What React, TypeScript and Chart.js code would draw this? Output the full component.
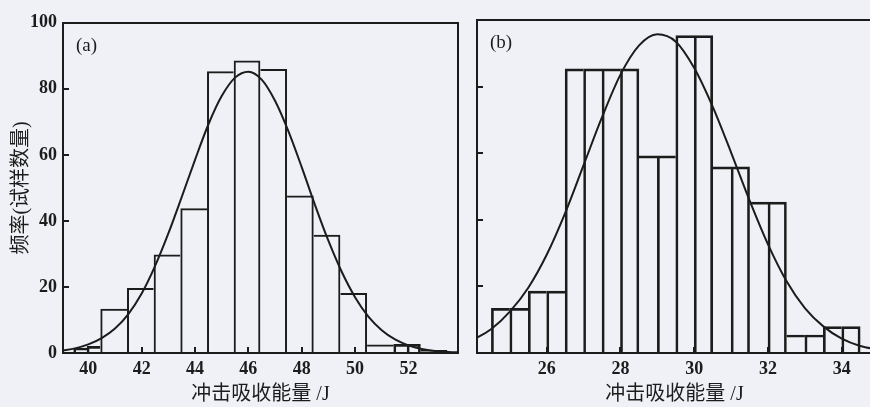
import React, { useEffect, useRef } from "react";
import { Chart, registerables } from "chart.js";
Chart.register(...registerables);

// ---------- Panel (a) ----------
const binEdgesA = [39.45, 39.95, 40.45, 41.45, 42.45, 43.45, 44.45, 45.45, 46.45, 47.45, 48.45, 49.45, 50.45, 51.45, 51.95, 52.45, 52.95, 53.45];
const countsA = [1.5, 2, 13.4, 19.7, 29.8, 43.8, 85.3, 88.6, 86, 47.7, 35.8, 18.2, 2.6, 2.6, 2.6, 0.8, 0.8];
const curveXA = [39.0, 39.5, 40.0, 40.5, 41.0, 41.5, 42.0, 42.5, 43.0, 43.5, 44.0, 44.5, 45.0, 45.5, 46.0, 46.5, 47.0, 47.5, 48.0, 48.5, 49.0, 49.5, 50.0, 50.5, 51.0, 51.5, 52.0, 52.5, 53.0, 53.5, 54.0];
const curveYA = [0.7, 1.4, 2.6, 4.5, 7.4, 11.8, 18.0, 26.3, 36.2, 47.2, 58.5, 69.2, 77.8, 83.4, 85.2, 82.8, 76.4, 67.2, 56.3, 44.8, 34.0, 24.6, 16.9, 11.0, 6.9, 4.1, 2.3, 1.2, 0.6, 0.3, 0.15];
const xTicksA = [40, 42, 44, 46, 48, 50, 52];
const xRangeA = [39.05, 53.86];

// ---------- Panel (b) ----------
const binEdgesB = [24.5, 25, 25.5, 26, 26.5, 27, 27.5, 28, 28.5, 29, 29.5, 30, 30.5, 31, 31.5, 32, 32.5, 33, 33.5, 34, 34.5];
const countsB = [13.4, 13.4, 18.6, 18.6, 85.3, 85.3, 85.3, 85.3, 59.2, 59.2, 95.3, 95.3, 55.9, 55.9, 45.3, 45.3, 5.4, 5.4, 7.9, 7.9];
const curveXB = [23.5, 24.0, 24.5, 25.0, 25.5, 26.0, 26.5, 27.0, 27.5, 28.0, 28.5, 29.0, 29.5, 30.0, 30.5, 31.0, 31.5, 32.0, 32.5, 33.0, 33.5, 34.0, 34.5, 35.0];
const curveYB = [2.0, 4.0, 7.2, 12.4, 19.6, 29.5, 42.0, 56.4, 70.8, 83.6, 92.3, 95.7, 93.5, 85.6, 74.0, 60.2, 45.8, 32.6, 21.6, 13.5, 8.0, 4.3, 2.1, 1.0];
const xTicksB = [26, 28, 30, 32, 34];
const xRangeB = [24.11, 34.82];

// ---------- shared ----------
const yTicks = [0, 20, 40, 60, 80, 100];
const xTitle = "冲击吸收能量 /J";
const yTitle = "频率(试样数量)";

const INK = "#1c1c1c";
const BG = "#eff1f6";
const SERIF = '"Liberation Serif", "Noto Sans CJK SC", serif';
const LW = 2;

// one bar dataset per bin width, so each bar spans its own bin
function binDatasets(edges: number[], counts: number[]) {
  const widths = counts.map((_, i) => Math.round((edges[i + 1] - edges[i]) * 1000) / 1000);
  const minW = Math.min(...widths);
  const groups = new Map<number, number[]>();
  widths.forEach((w, i) => {
    if (!groups.has(w)) groups.set(w, []);
    groups.get(w)!.push(i);
  });
  return Array.from(groups.entries()).map(([w, idx]) => ({
    type: "bar" as const,
    grouped: false,
    data: idx.map((i) => ({ x: (edges[i] + edges[i + 1]) / 2, y: counts[i] })),
    backgroundColor: "rgba(0,0,0,0)",
    borderColor: INK,
    barPercentage: w / minW,
    categoryPercentage: 1,
    borderWidth: (ctx: any) => {
      const i = idx[ctx.dataIndex];
      if (i === undefined) return LW;
      const h = counts[i];
      const prev = i > 0 ? counts[i - 1] : -1;
      const next = i < counts.length - 1 ? counts[i + 1] : -1;
      return {
        top: LW,
        bottom: 0,
        left: h >= prev ? LW : 0,
        right: h > next ? LW : 0,
      };
    },
  }));
}

function panelLabel(text: string) {
  return {
    id: "panelLabel",
    afterDraw(chart: any) {
      const { ctx, chartArea } = chart;
      ctx.save();
      ctx.font = `19px ${SERIF}`;
      ctx.fillStyle = INK;
      ctx.textBaseline = "middle";
      ctx.textAlign = "left";
      ctx.fillText(text, chartArea.left + 13, chartArea.top + 23);
      ctx.restore();
    },
  };
}

function makeConfig(opts: {
  edges: number[];
  counts: number[];
  cx: number[];
  cy: number[];
  xTicks: number[];
  xRange: number[];
  showY: boolean;
  yWidth: number;
  padRight: number;
  label: string;
}) {
  const tickFont = { family: SERIF, size: 18, weight: "bold" as const };
  const titleFont = { family: SERIF, size: 20, weight: "normal" as const };
  return {
    type: "bar" as const,
    data: {
      datasets: [
        {
          type: "line" as const,
          data: opts.cx.map((x, i) => ({ x, y: opts.cy[i] })),
          borderColor: INK,
          borderWidth: 2,
          pointRadius: 0,
          cubicInterpolationMode: "monotone" as const,
          fill: false,
        },
        ...binDatasets(opts.edges, opts.counts),
      ],
    },
    options: {
      animation: false as const,
      responsive: false,
      maintainAspectRatio: false,
      layout: { padding: { top: 20, right: opts.padRight, left: 0, bottom: 0 } },
      plugins: { legend: { display: false }, tooltip: { enabled: false } },
      scales: {
        x: {
          type: "linear" as const,
          position: "bottom" as const,
          min: opts.xRange[0],
          max: opts.xRange[1],
          offset: false,
          afterBuildTicks: (scale: any) => {
            scale.ticks = opts.xTicks.map((v) => ({ value: v }));
          },
          afterFit: (scale: any) => {
            scale.height = 54;
          },
          grid: { offset: false, drawOnChartArea: false, tickLength: -6, lineWidth: LW, color: INK },
          border: { display: true, width: LW, color: INK },
          ticks: { padding: 12, font: tickFont, color: INK, maxRotation: 0, autoSkip: false },
          title: { display: true, text: xTitle, font: titleFont, color: INK, padding: { top: 0, bottom: 0 } },
        },
        x2: {
          type: "linear" as const,
          position: "top" as const,
          afterFit: (scale: any) => {
            scale.height = 0;
          },
          grid: { display: false },
          border: { display: true, width: LW, color: INK },
          ticks: { display: false },
        },
        y: {
          type: "linear" as const,
          position: "left" as const,
          min: 0,
          max: 100,
          afterBuildTicks: (scale: any) => {
            scale.ticks = yTicks.map((v) => ({ value: v }));
          },
          afterFit: (scale: any) => {
            scale.width = opts.yWidth;
          },
          grid: { drawOnChartArea: false, tickLength: -6, lineWidth: LW, color: INK },
          border: { display: true, width: LW, color: INK },
          ticks: { display: opts.showY, padding: 12, font: tickFont, color: INK },
          title: {
            display: opts.showY,
            text: yTitle,
            font: titleFont,
            color: INK,
            padding: { top: 10, bottom: 0 },
          },
        },
        y2: {
          type: "linear" as const,
          position: "right" as const,
          afterFit: (scale: any) => {
            scale.width = 0;
          },
          grid: { display: false },
          border: { display: true, width: LW, color: INK },
          ticks: { display: false },
        },
      },
    },
    plugins: [panelLabel(opts.label)],
  };
}

export default function App() {
  const refA = useRef<HTMLCanvasElement | null>(null);
  const refB = useRef<HTMLCanvasElement | null>(null);

  useEffect(() => {
    const chartA = new Chart(
      refA.current as HTMLCanvasElement,
      makeConfig({
        edges: binEdgesA,
        counts: countsA,
        cx: curveXA,
        cy: curveYA,
        xTicks: xTicksA,
        xRange: xRangeA,
        showY: true,
        yWidth: 63,
        padRight: 8,
        label: "(a)",
      }) as any
    );
    const chartB = new Chart(
      refB.current as HTMLCanvasElement,
      makeConfig({
        edges: binEdgesB,
        counts: countsB,
        cx: curveXB,
        cy: curveYB,
        xTicks: xTicksB,
        xRange: xRangeB,
        showY: false,
        yWidth: 11,
        padRight: 18,
        label: "(b)",
      }) as any
    );
    return () => {
      chartA.destroy();
      chartB.destroy();
    };
  }, []);

  return (
    <div
      style={{
        position: "fixed",
        left: 0,
        top: 0,
        width: 870,
        height: 407,
        overflow: "hidden",
        background: BG,
      }}
    >
      <canvas
        ref={refA}
        width={466}
        height={407}
        style={{ position: "absolute", left: 0, top: 0, width: 466, height: 407 }}
      />
      <canvas
        ref={refB}
        width={424}
        height={407}
        style={{ position: "absolute", left: 466, top: 0, width: 424, height: 407 }}
      />
    </div>
  );
}
